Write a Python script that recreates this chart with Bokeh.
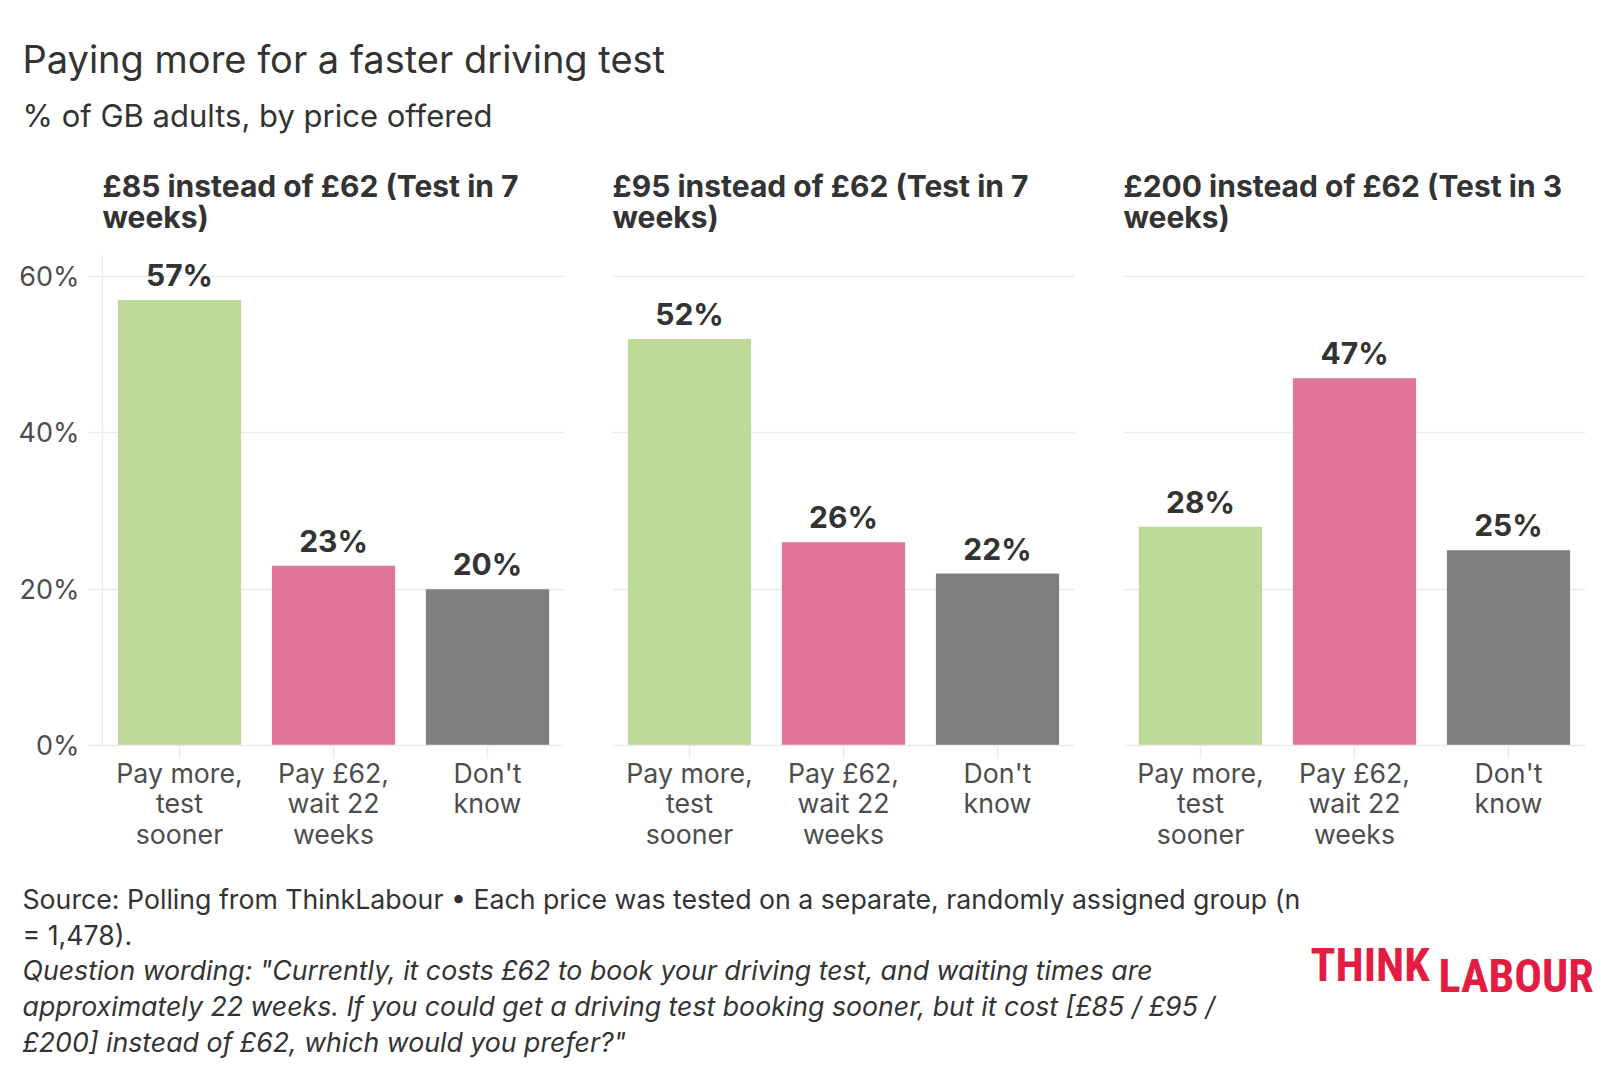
from bokeh.plotting import figure
from bokeh.layouts import column, row
from bokeh.models import (ColumnDataSource, Range1d, FactorRange, LabelSet,
                          FixedTicker, PrintfTickFormatter)
from bokeh.embed import file_html
from bokeh.resources import INLINE
from bokeh.core.properties import value

# ---------------- data ----------------
title = "Paying more for a faster driving test"
subtitle = "% of GB adults, by price offered"
panel_titles = [
    ["£85 instead of £62 (Test in 7", "weeks)"],
    ["£95 instead of £62 (Test in 7", "weeks)"],
    ["£200 instead of £62 (Test in 3", "weeks)"],
]
categories = ["Pay more,\ntest\nsooner", "Pay £62,\nwait 22\nweeks", "Don't\nknow"]
pay_more = [57, 52, 28]
pay_62 = [23, 26, 47]
dont_know = [20, 22, 25]
bar_colors = ["#bdda98", "#e07598", "#7f7f7f"]
y_ticks = [0, 20, 40, 60]
caption_lines = [
    "Source: Polling from ThinkLabour \u2022 Each price was tested on a separate, randomly assigned group (n",
    "= 1,478).",
]
question_lines = [
    "Question wording: \"Currently, it costs £62 to book your driving test, and waiting times are",
    "approximately 22 weeks. If you could get a driving test booking sooner, but it cost [£85 / £95 /",
    "£200] instead of £62, which would you prefer?\"",
]

FONT = "Inter"
TXT = "#333333"
AX = "#4d4d4d"
GRID = "#ebebeb"

W = 1600
HEAD_H = 255
FOOT_H = 209


def blank_fig(h, w=W):
    f = figure(width=w, height=h, x_range=Range1d(0, w), y_range=Range1d(h, 0),
               output_backend="svg", toolbar_location=None,
               x_axis_type=None, y_axis_type=None, min_border=0)
    f.outline_line_color = None
    f.grid.visible = False
    return f


# ---------------- header ----------------
head = blank_fig(HEAD_H)
head.text(x=[22], y=[58], text=[title], text_font=value(FONT), text_font_size="38px",
          text_color=TXT, text_baseline="alphabetic")
head.text(x=[22], y=[115], text=[subtitle], text_font=value(FONT), text_font_size="31px",
          text_color=TXT, text_baseline="alphabetic")
panel_x = [102, 612, 1123]
for px, lines in zip(panel_x, panel_titles):
    head.text(x=[px, px], y=[185, 216], text=lines, text_font=value(FONT),
              text_font_size="30px", text_font_style="bold", text_color=TXT,
              text_baseline="alphabetic")

# ---------------- panels ----------------
series = list(zip(pay_more, pay_62, dont_know))
borders = [(102, 24), (24, 24), (25, 10)]
panels = []
for i, vals in enumerate(series):
    src = ColumnDataSource(dict(cat=categories, val=list(vals), color=bar_colors,
                                lab=[f"{v}%" for v in vals]))
    bl, br = borders[i]
    p = figure(x_range=FactorRange(*categories), y_range=Range1d(0, 62.7),
               frame_width=462, frame_height=490, min_border_left=bl,
               min_border_right=br, min_border_top=0, min_border_bottom=120,
               output_backend="svg", toolbar_location=None)
    p.vbar(x="cat", top="val", width=0.8, fill_color="color", line_color=None, source=src)
    p.add_layout(LabelSet(x="cat", y="val", text="lab", source=src, y_offset=14,
                          text_align="center", text_baseline="alphabetic",
                          text_font=value(FONT), text_font_size="30px",
                          text_font_style="bold", text_color=TXT))
    p.outline_line_color = None
    p.xgrid.visible = False
    p.ygrid.ticker = FixedTicker(ticks=y_ticks)
    p.ygrid.grid_line_color = GRID
    p.ygrid.grid_line_width = 1.5
    # x axis
    xa = p.xaxis[0]
    xa.axis_line_color = GRID
    xa.axis_line_width = 1.5
    xa.major_tick_line_color = GRID
    xa.major_tick_line_width = 1.5
    xa.major_tick_out = 13
    xa.major_tick_in = 0
    xa.major_label_standoff = -2
    xa.major_label_text_font = FONT
    xa.major_label_text_font_size = "26.7px"
    xa.major_label_text_color = AX
    xa.major_label_text_line_height = 0.96
    # y axis
    ya = p.yaxis[0]
    ya.ticker = FixedTicker(ticks=y_ticks)
    ya.formatter = PrintfTickFormatter(format="%d%%")
    ya.minor_tick_line_color = None
    ya.axis_line_color = GRID
    ya.axis_line_width = 1.5
    ya.major_tick_line_color = GRID
    ya.major_tick_line_width = 1.5
    ya.major_tick_out = 14
    ya.major_tick_in = 0
    ya.major_label_standoff = 9
    ya.major_label_text_font = FONT
    ya.major_label_text_font_size = "27px"
    ya.major_label_text_color = AX
    if i > 0:
        ya.visible = False
    panels.append(p)

# ---------------- footer ----------------
foot = blank_fig(FOOT_H)
foot.text(x=[22, 22], y=[33, 69], text=caption_lines, text_font=value(FONT),
          text_font_size="26.7px", text_color=TXT, text_baseline="alphabetic")
foot.text(x=[22, 22, 22], y=[104, 140, 176], text=question_lines, text_font=value(FONT),
          text_font_size="26.7px", text_font_style="italic", text_color=TXT,
          text_baseline="alphabetic")
LOGO_FONT = value("Roboto Condensed, DejaVu Sans Condensed")
foot.text(x=[1310], y=[99], text=["THINK"], text_font=LOGO_FONT,
          text_font_size="46px", text_font_style="bold", text_color="#e31c41",
          text_baseline="alphabetic")
foot.text(x=[1438], y=[110], text=["LABOUR"], text_font=LOGO_FONT,
          text_font_size="46px", text_font_style="bold", text_color="#e31c41",
          text_baseline="alphabetic")

layout = column(head, row(*panels, spacing=0), foot, spacing=0)
open("out.html", "w").write(file_html(layout, INLINE))
